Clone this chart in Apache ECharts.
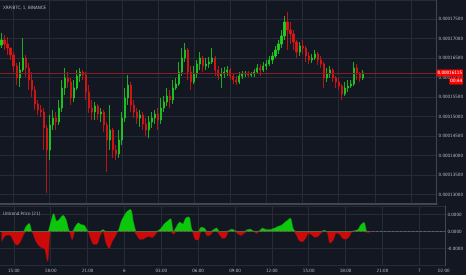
<!DOCTYPE html>
<html lang="en">
<head>
<meta charset="UTF-8">
<title>XRP/BTC</title>
<script src="https://cdn.jsdelivr.net/npm/echarts@6.0.0/dist/echarts.min.js"></script>
<style>
    html, body { margin: 0; padding: 0; background: #131722; }
    #main { width: 466px; height: 275px; }
</style>
</head>
<body>
<div id="main"></div>
<script type="text/javascript">
    // 15 minute slots from 14:00 (day 5) to 02:00 (day 7)
    var slotStart = 14 * 60;
    var slotMinutes = 15;
    var slotCount = 145;

    // bottom axis labels (slot index -> text)
    var tickIdx = [4, 16, 28, 40, 52, 64, 76, 88, 100, 112, 124, 136, 144];
    var tickText = ['15:00', '18:00', '21:00', '6', '03:00', '06:00', '09:00', '12:00', '15:00', '18:00', '21:00', '7', '02:00'];

    // [open, close, low, high], price in satoshi (1e-8 BTC)
    var candles = [
        [16833, 16961, 16756, 17141], [16961, 16859, 16705, 17090], [16859, 16756, 16577, 17038], [16756, 16577, 16449, 16705],
        [16577, 16295, 16141, 16654], [16295, 15987, 15808, 16372], [15987, 16192, 15756, 16397], [16192, 16500, 16141, 17013],
        [16500, 16244, 16013, 16577], [16244, 15936, 15680, 16372], [15936, 15680, 15500, 16141], [15680, 15320, 15167, 15782],
        [15320, 15167, 15038, 15423], [15167, 15115, 14987, 15295], [15115, 14705, 14141, 15218], [14705, 14141, 13039, 14782],
        [14141, 14782, 13885, 15038], [14782, 14962, 14654, 15167], [14962, 14859, 14654, 15115], [14859, 15218, 14782, 15423],
        [15218, 15731, 15115, 15936], [15731, 15987, 15551, 16244], [15987, 15885, 15731, 16141], [15885, 15474, 15295, 15987],
        [15474, 15731, 15372, 15936], [15731, 16038, 15680, 16192], [16038, 16141, 15885, 16244], [16141, 16064, 15936, 16192],
        [16064, 15628, 15423, 16141], [15628, 15218, 15090, 15808], [15218, 15115, 14910, 15423], [15115, 15269, 14910, 15372],
        [15269, 15064, 14910, 15320], [15064, 15115, 14859, 15218], [15115, 14782, 14603, 15167], [14782, 14397, 13577, 14859],
        [14397, 14654, 14141, 15295], [14654, 14141, 13936, 14705], [14141, 14038, 13885, 14269], [14038, 14397, 13936, 14654],
        [14397, 14962, 14269, 15115], [14962, 15474, 14859, 15731], [15474, 15808, 15295, 16064], [15808, 15295, 15115, 15885],
        [15295, 15115, 14962, 15423], [15115, 14962, 14808, 15218], [14962, 15038, 14731, 15167], [15038, 14808, 14654, 15115],
        [14808, 14654, 14500, 14962], [14654, 14859, 14449, 15013], [14859, 14962, 14705, 15115], [14962, 15064, 14808, 15167],
        [15064, 14910, 14654, 15218], [14910, 15218, 14808, 15474], [15218, 15372, 15115, 15526], [15372, 15526, 15269, 15731],
        [15526, 15423, 15218, 15680], [15423, 15731, 15320, 15936], [15731, 15833, 15680, 15987], [15833, 16141, 15782, 16397],
        [16141, 16500, 16038, 16756], [16500, 16705, 16397, 16885], [16705, 16141, 15936, 16756], [16141, 15885, 15680, 16295],
        [15885, 16090, 15833, 16295], [16090, 16346, 15987, 16449], [16346, 16500, 16192, 16654], [16500, 16295, 16141, 16551],
        [16295, 16346, 16192, 16500], [16346, 16397, 16244, 16526], [16397, 16500, 16346, 16756], [16500, 16192, 16038, 16551],
        [16192, 16038, 15936, 16295], [16038, 16090, 15731, 16244], [16090, 16141, 15987, 16269], [16141, 16192, 16038, 16295],
        [16192, 16038, 15936, 16244], [16038, 15936, 15833, 16090], [15936, 15885, 15808, 16038], [15885, 16038, 15833, 16141],
        [16038, 16090, 15962, 16167], [16090, 16115, 16013, 16167], [16115, 16064, 16013, 16167], [16064, 16090, 16013, 16141],
        [16090, 16141, 16013, 16218], [16141, 16244, 16090, 16346], [16244, 16192, 16038, 16346], [16192, 16295, 16141, 16397],
        [16295, 16346, 16192, 16449], [16346, 16449, 16295, 16551], [16449, 16551, 16346, 16654], [16551, 16705, 16500, 16808],
        [16705, 16859, 16602, 16961], [16859, 17064, 16756, 17218], [17064, 17423, 16961, 17577], [17423, 17218, 16705, 17679],
        [17218, 17115, 16859, 17423], [17115, 16910, 16705, 17218], [16910, 16654, 16500, 16961], [16654, 16808, 16551, 16910],
        [16808, 16756, 16602, 16961], [16756, 16551, 16397, 16808], [16551, 16449, 16346, 16654], [16449, 16500, 16372, 16602],
        [16500, 16602, 16449, 16705], [16602, 16449, 16320, 16654], [16449, 16346, 16244, 16551], [16346, 15987, 15731, 16397],
        [15987, 16090, 15885, 16244], [16090, 16192, 15987, 16295], [16192, 15987, 15885, 16244], [15987, 15885, 15731, 16038],
        [15885, 15782, 15680, 15987], [15782, 15577, 15423, 15833], [15577, 15731, 15526, 15885], [15731, 15782, 15628, 15936],
        [15782, 15833, 15731, 15936], [15833, 16244, 15782, 16397], [16244, 16090, 15936, 16346], [16090, 15987, 15885, 16141],
        [15987, 16115, 15936, 16192]
    ];

    // Untrend Price (21), satoshi
    var untrend = [
        -120, -60, -40, -50, -120, -160, -130, -50, 60, 95, -10, -100, -160, -190, -200, -350,
        100, 210, 120, 150, 190, 140, 10, -95, 60, 100, 80, 70, 10, -80, -150, -150,
        -60, 20, -130, -200, -120, -60, 10, 120, 190, 240, 260, 100, -40, -90, -90, -70,
        -60, -70, -40, 10, 40, 90, 120, 150, -30, 60, 110, 90, 160, 170, 20, -90,
        -100, 50, 40, -50, -40, 20, 40, -40, -80, -70, 10, 27, 10, -30, -45, -20,
        20, 27, 5, -20, 10, 39, 25, 20, 27, 40, 60, 70, 100, 130, 157, 30,
        -40, -110, -120, -80, -20, -40, -67, -60, -20, 15, -10, -137, -100, -20, -30, -80,
        -90, -70, -10, 10, 20, 80, 106, -10, -20
    ];

    var txt = '#b2b5be';
    var gridCol = '#272b36';
    var axisCol = '#434651';
    var font = 'Liberation Sans Narrow, DejaVu Sans Condensed, sans-serif';

    var slots = [];
    for (var i = 0; i < slotCount; i++) {
        var m = (slotStart + i * slotMinutes) % 1440;
        var hh = Math.floor(m / 60), mm = m % 60;
        slots.push((hh < 10 ? '0' : '') + hh + ':' + (mm < 10 ? '0' : '') + mm);
    }
    var untrendPos = untrend.map(function (v) { return v > 0 ? v : 0; });
    var untrendNeg = untrend.map(function (v) { return v < 0 ? v : 0; });
    var lastClose = candles[candles.length - 1][1];

    function isGridTick(index) {
        return tickIdx.indexOf(index) >= 0 && index !== 144;
    }

    var myChart = echarts.init(document.getElementById('main'));

    var option = {
        animation: false,
        backgroundColor: '#131722',
        textStyle: {fontFamily: font},
        title: [
            {
                text: 'XRP/BTC, 1, BINANCE',
                left: 3, top: 5, padding: 0,
                textStyle: {color: txt, fontSize: 4.5, fontWeight: 'normal', fontFamily: font}
            },
            {
                text: 'Untrend Price (21)',
                left: 3, top: 211, padding: 0,
                textStyle: {color: txt, fontSize: 4.5, fontWeight: 'normal', fontFamily: font}
            }
        ],
        grid: [
            {left: 0, right: 20, top: 0, height: 204},
            {left: 0, right: 20, top: 206, height: 59.5}
        ],
        xAxis: [
            {
                type: 'category',
                gridIndex: 0,
                data: slots,
                boundaryGap: true,
                axisLine: {show: true, lineStyle: {color: axisCol, width: 2}},
                axisTick: {show: false},
                axisLabel: {show: false},
                splitLine: {show: true, interval: isGridTick, alignWithLabel: true, lineStyle: {color: gridCol}}
            },
            {
                type: 'category',
                gridIndex: 1,
                data: slots,
                boundaryGap: true,
                axisLine: {show: true, lineStyle: {color: axisCol}},
                axisTick: {show: false},
                axisLabel: {
                    color: txt,
                    fontSize: 4.5,
                    margin: 3,
                    interval: function (index) { return tickIdx.indexOf(index) >= 0; },
                    formatter: function (val, index) { return tickText[tickIdx.indexOf(index)]; }
                },
                splitLine: {show: true, interval: isGridTick, alignWithLabel: true, lineStyle: {color: gridCol}}
            }
        ],
        yAxis: [
            {
                type: 'value',
                gridIndex: 0,
                position: 'right',
                min: 12756,
                max: 17987,
                splitNumber: 10,
                axisLine: {show: true, lineStyle: {color: axisCol}},
                axisTick: {show: false},
                axisLabel: {
                    color: txt, fontSize: 4.5, margin: 2,
                    showMinLabel: false, showMaxLabel: false,
                    formatter: function (v) { return (v / 1e8).toFixed(8); }
                },
                splitLine: {lineStyle: {color: gridCol}}
            },
            {
                type: 'value',
                gridIndex: 1,
                position: 'right',
                min: -400,
                max: 300,
                interval: 200,
                axisLine: {show: true, lineStyle: {color: axisCol}},
                axisTick: {show: false},
                axisLabel: {
                    color: txt, fontSize: 4.5, margin: 2,
                    showMinLabel: false, showMaxLabel: false,
                    formatter: function (v) { return (v / 1e8).toFixed(4); }
                },
                splitLine: {lineStyle: {color: gridCol}}
            }
        ],
        series: [
            {
                name: 'XRP/BTC',
                type: 'candlestick',
                xAxisIndex: 0,
                yAxisIndex: 0,
                data: candles,
                barWidth: 1.6,
                itemStyle: {
                    color: '#1fd41f',
                    color0: '#e41414',
                    borderColor: '#1fd41f',
                    borderColor0: '#e41414',
                    borderWidth: 0.8
                },
                markLine: {
                    silent: true,
                    symbol: 'none',
                    lineStyle: {color: '#8a1c24', width: 1, type: 'solid'},
                    label: {
                        position: 'end',
                        distance: 0,
                        offset: [0, 4],
                        formatter: function () {
                            return '{p|' + (lastClose / 1e8).toFixed(8) + '}\n{t|00:44}';
                        },
                        rich: {
                            p: {backgroundColor: '#f00', color: '#fff', fontSize: 4.5, padding: [1, 1], lineHeight: 8, fontFamily: font},
                            t: {backgroundColor: '#f00', color: '#fff', fontSize: 4.5, padding: [1, 1], lineHeight: 8, align: 'right', fontFamily: font}
                        }
                    },
                    data: [{yAxis: lastClose}]
                }
            },
            {
                name: 'Untrend +',
                type: 'line',
                xAxisIndex: 1,
                yAxisIndex: 1,
                data: untrendPos,
                smooth: 0.3,
                showSymbol: false,
                lineStyle: {color: '#0cc80c', width: 0.5},
                areaStyle: {color: '#0cc80c', opacity: 1}
            },
            {
                name: 'Untrend -',
                type: 'line',
                xAxisIndex: 1,
                yAxisIndex: 1,
                data: untrendNeg,
                smooth: 0.3,
                showSymbol: false,
                lineStyle: {color: '#cc0a0a', width: 0.5},
                areaStyle: {color: '#cc0a0a', opacity: 1},
                markLine: {
                    silent: true,
                    symbol: 'none',
                    label: {show: false},
                    lineStyle: {color: '#5d606b', width: 1, type: [2, 2]},
                    data: [{yAxis: 0}]
                }
            }
        ]
    };

    myChart.setOption(option);
</script>
</body>
</html>
